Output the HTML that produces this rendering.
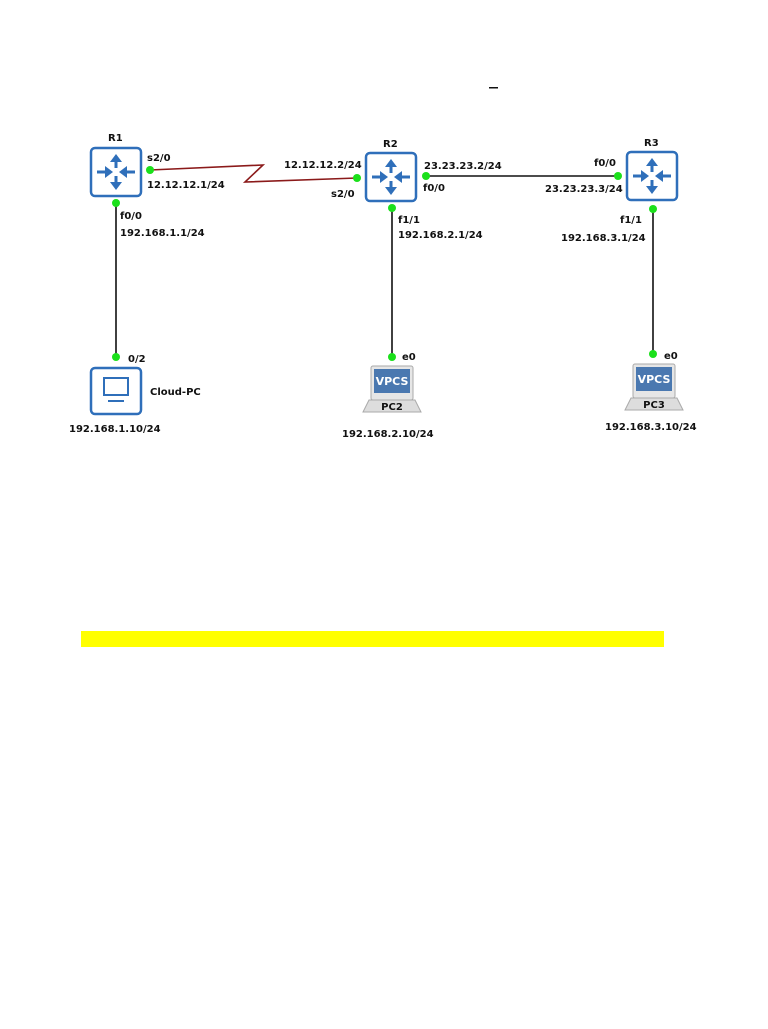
<!DOCTYPE html>
<html><head><meta charset="utf-8"><style>
body{margin:0;background:#fff;width:768px;height:1024px;overflow:hidden}
svg text{font-family:"DejaVu Sans","Liberation Sans",sans-serif;font-weight:bold;font-size:10px;fill:#111}
</style></head><body>
<svg width="768" height="1024" xmlns="http://www.w3.org/2000/svg">
<defs>
<g id="rt">
<rect x="0" y="0" width="50" height="48" rx="4" fill="#fff" stroke="#2f6fba" stroke-width="2.5"/>
<g fill="#2f6fba" stroke="#2f6fba" stroke-width="3">
<line x1="25" y1="10" x2="25" y2="20"/><path d="M19 14 L25 6 L31 14Z" stroke="none"/>
<line x1="25" y1="28" x2="25" y2="38"/><path d="M19 34 L25 42 L31 34Z" stroke="none"/>
<line x1="6" y1="24" x2="17" y2="24"/><path d="M14 18 L22 24 L14 30Z" stroke="none"/>
<line x1="33" y1="24" x2="44" y2="24"/><path d="M36 18 L28 24 L36 30Z" stroke="none"/>
</g></g>
<g id="pc">
<rect x="6" y="0" width="42" height="34" rx="2" fill="#e6e6e6" stroke="#aaa"/>
<rect x="9" y="3" width="36" height="24" fill="#4a78b0"/>
<text x="27" y="19" text-anchor="middle" style="fill:#fff;font-size:11px">VPCS</text>
<path d="M4 34 L50 34 L56 46 L-2 46Z" fill="#ddd" stroke="#aaa"/>
</g>
</defs>
<rect x="489" y="87" width="9" height="1.5" fill="#111"/>
<polyline points="150,170 263,165 245,182 357,178" fill="none" stroke="#8b1a1a" stroke-width="1.6"/>
<line x1="426" y1="176" x2="618" y2="176" stroke="#111" stroke-width="1.6"/>
<line x1="116" y1="203" x2="116" y2="357" stroke="#111" stroke-width="1.6"/>
<line x1="392" y1="208" x2="392" y2="357" stroke="#111" stroke-width="1.6"/>
<line x1="653" y1="209" x2="653" y2="354" stroke="#111" stroke-width="1.6"/>
<use href="#rt" x="91" y="148"/>
<use href="#rt" x="366" y="153"/>
<use href="#rt" x="627" y="152"/>
<rect x="91" y="368" width="50" height="46" rx="4" fill="#fff" stroke="#2f6fba" stroke-width="2.5"/>
<rect x="104" y="378" width="24" height="17" fill="none" stroke="#2f6fba" stroke-width="2"/>
<line x1="108" y1="401" x2="124" y2="401" stroke="#2f6fba" stroke-width="2"/>
<use href="#pc" x="365" y="366"/>
<use href="#pc" x="627" y="364"/>
<text x="392" y="410" text-anchor="middle">PC2</text>
<text x="654" y="408" text-anchor="middle">PC3</text>
<g fill="#1be01b">
<circle cx="150" cy="170" r="4"/><circle cx="357" cy="178" r="4"/>
<circle cx="426" cy="176" r="4"/><circle cx="618" cy="176" r="4"/>
<circle cx="116" cy="203" r="4"/><circle cx="116" cy="357" r="4"/>
<circle cx="392" cy="208" r="4"/><circle cx="392" cy="357" r="4"/>
<circle cx="653" cy="209" r="4"/><circle cx="653" cy="354" r="4"/>
</g>
<text x="108" y="141">R1</text><text x="383" y="147">R2</text><text x="644" y="146">R3</text>
<text x="147" y="161">s2/0</text><text x="147" y="188">12.12.12.1/24</text>
<text x="284" y="168">12.12.12.2/24</text><text x="331" y="197">s2/0</text>
<text x="424" y="169">23.23.23.2/24</text><text x="423" y="191">f0/0</text>
<text x="594" y="166">f0/0</text><text x="545" y="192">23.23.23.3/24</text>
<text x="120" y="219">f0/0</text><text x="120" y="236">192.168.1.1/24</text>
<text x="398" y="223">f1/1</text><text x="398" y="238">192.168.2.1/24</text>
<text x="620" y="223">f1/1</text><text x="561" y="241">192.168.3.1/24</text>
<text x="128" y="362">0/2</text><text x="150" y="395">Cloud-PC</text>
<text x="69" y="432">192.168.1.10/24</text>
<text x="402" y="360">e0</text><text x="342" y="437">192.168.2.10/24</text>
<text x="664" y="359">e0</text><text x="605" y="430">192.168.3.10/24</text>
<rect x="81" y="631" width="583" height="16" fill="#ffff00"/>
</svg>
</body></html>
